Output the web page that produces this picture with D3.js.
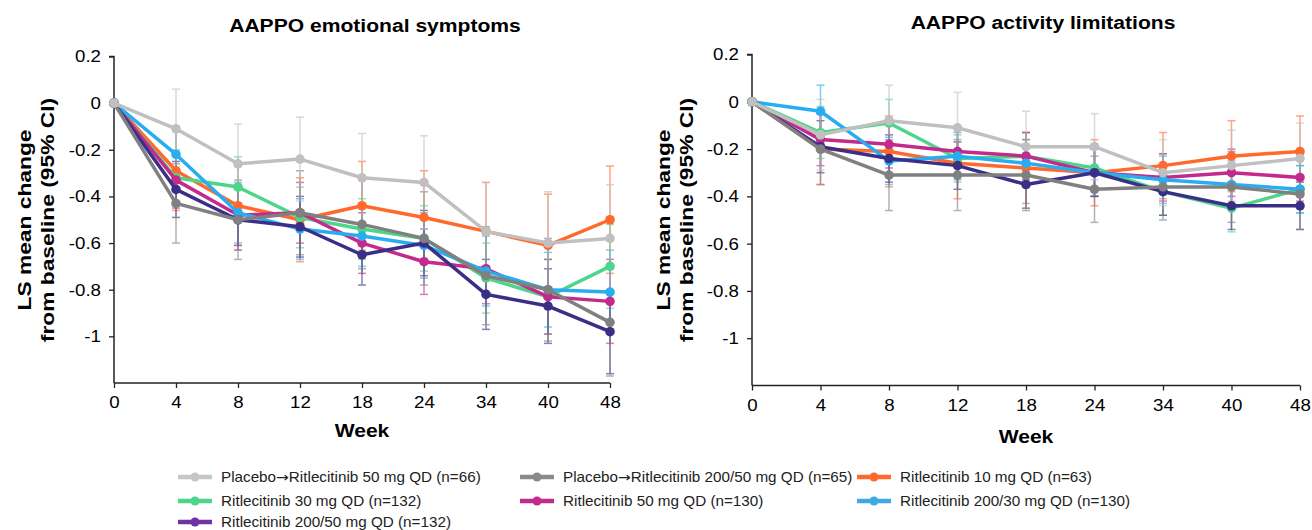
<!DOCTYPE html>
<html>
<head>
<meta charset="utf-8">
<script src="https://cdn.jsdelivr.net/npm/d3@7"></script>
<style>
  body { margin: 0; background: #fff; }
  svg { font-family: Arial, "Liberation Sans", sans-serif; }
</style>
</head>
<body>
<svg id="chart" width="1312" height="530"></svg>
<script>
// Categories and tick labels
const weeks = ["0", "4", "8", "12", "18", "24", "34", "40", "48"];
const yTicks = [0.2, 0, -0.2, -0.4, -0.6, -0.8, -1];

const seriesNames = [
  ["Placebo", "Ritlecitinib 50 mg QD (n=66)"],
  ["Placebo", "Ritlecitinib 200/50 mg QD (n=65)"],
  ["Ritlecitinib 10 mg QD (n=63)"],
  ["Ritlecitinib 30 mg QD (n=132)"],
  ["Ritlecitinib 50 mg QD (n=130)"],
  ["Ritlecitinib 200/30 mg QD (n=130)"],
  ["Ritlecitinib 200/50 mg QD (n=132)"]
];
const seriesColors = ["#c0c0c0", "#808080", "#ff6a2c", "#4dd58a", "#c42a8c", "#29adf0", "#3b2e87"];
const legendColors = ["#c6c6c6", "#8a8a8a", "#ff6a2c", "#4dd58a", "#c42a8c", "#3ea9e2", "#7133a4"];

// AAPPO emotional symptoms: LS mean change by week
const emoPlacebo50 = [0, -0.11, -0.26, -0.24, -0.32, -0.34, -0.55, -0.60, -0.58];
const emoPlacebo200 = [0, -0.43, -0.50, -0.47, -0.52, -0.58, -0.74, -0.80, -0.94];
const emo10 = [0, -0.29, -0.44, -0.50, -0.44, -0.49, -0.55, -0.61, -0.50];
const emo30 = [0, -0.32, -0.36, -0.49, -0.54, -0.58, -0.75, -0.83, -0.70];
const emo50 = [0, -0.33, -0.48, -0.47, -0.60, -0.68, -0.71, -0.83, -0.85];
const emo200_30 = [0, -0.22, -0.47, -0.54, -0.57, -0.61, -0.72, -0.80, -0.81];
const emo200_50 = [0, -0.37, -0.50, -0.53, -0.65, -0.60, -0.82, -0.87, -0.98];
// 95% CI half widths (n~65 groups and n~130 groups)
const emoCiWide = [0, 0.17, 0.17, 0.18, 0.19, 0.20, 0.21, 0.22, 0.23];
const emoCiNarrow = [0, 0.12, 0.13, 0.13, 0.13, 0.14, 0.15, 0.16, 0.18];

// AAPPO activity limitations: LS mean change by week
const actPlacebo50 = [0, -0.14, -0.08, -0.11, -0.19, -0.19, -0.30, -0.27, -0.24];
const actPlacebo200 = [0, -0.20, -0.31, -0.31, -0.31, -0.37, -0.36, -0.36, -0.39];
const act10 = [0, -0.20, -0.21, -0.26, -0.28, -0.30, -0.27, -0.23, -0.21];
const act30 = [0, -0.13, -0.09, -0.24, -0.23, -0.28, -0.38, -0.45, -0.37];
const act50 = [0, -0.16, -0.18, -0.21, -0.23, -0.30, -0.32, -0.30, -0.32];
const act200_30 = [0, -0.04, -0.25, -0.23, -0.26, -0.30, -0.33, -0.35, -0.37];
const act200_50 = [0, -0.19, -0.24, -0.27, -0.35, -0.30, -0.38, -0.44, -0.44];
const actCiWide = [0, 0.15, 0.15, 0.15, 0.15, 0.14, 0.14, 0.15, 0.15];
const actCiNarrow = [0, 0.11, 0.10, 0.10, 0.10, 0.10, 0.10, 0.10, 0.10];

// drawing order (light gray last so it sits on top)
const drawOrder = [2, 3, 4, 5, 6, 1, 0];

const svg = d3.select("#chart");

// text in the source is a bit wider than Arial, so stretch it a little
function wideText(parent, x, y, str, size, sx, rotate) {
  const rot = rotate ? ` rotate(${rotate})` : "";
  return parent.append("text")
    .attr("transform", `translate(${x},${y})${rot} scale(${sx},1)`)
    .attr("text-anchor", "middle")
    .attr("dy", "0.35em")
    .style("font-size", size + "px")
    .style("font-weight", "bold")
    .text(str);
}

function buildSeries(values, ciWide, ciNarrow) {
  return values.map((vals, i) => ({
    idx: i,
    color: seriesColors[i],
    points: vals.map((v, j) => ({
      week: weeks[j],
      value: v,
      ci: i < 3 ? ciWide[j] : ciNarrow[j]
    }))
  }));
}

function drawPanel(cfg) {
  const xScale = d3.scalePoint().domain(weeks).range([cfg.x0, cfg.x1]).padding(0);
  const yScale = d3.scaleLinear().domain([-1.2, 0.2]).range([cfg.yBottom, cfg.yTop]);
  const g = svg.append("g");

  // Title
  wideText(g, cfg.titleX, cfg.titleY, cfg.title, 18.5, 1.14);

  // Axes
  const sx = 1.1;
  const yAxis = d3.axisLeft(yScale)
    .tickValues(yTicks)
    .tickSize(5)
    .tickPadding(8)
    .tickFormat(d => (Math.abs(d) < 1e-9 ? "0" : String(+d.toFixed(1))));
  const yg = g.append("g")
    .attr("transform", `translate(${cfg.x0},0)`)
    .call(yAxis);
  yg.select(".domain").attr("d", `M-5,${yScale(0.2)}H0V${cfg.yBottom}`);
  yg.selectAll("text").attr("x", -13 / sx).attr("transform", `scale(${sx},1)`);

  const xAxis = d3.axisBottom(xScale).tickSize(5).tickPadding(8);
  const xg = g.append("g")
    .attr("transform", `translate(0,${cfg.yBottom})`)
    .call(xAxis);
  xg.select(".domain").attr("d", `M${cfg.x0},0H${cfg.x1}`);
  xg.selectAll("text").attr("transform", `scale(${sx},1)`);

  [yg, xg].forEach(a => {
    a.selectAll("text").style("font-size", "17px").attr("fill", "#000");
    a.selectAll("line").attr("stroke", "#222").attr("stroke-width", 1.3);
    a.select(".domain").attr("stroke", "#222").attr("stroke-width", 1.5);
  });

  // Axis titles
  ["LS mean change", "from baseline (95% CI)"].forEach((t, k) => {
    wideText(g, cfg.yLabelX + k * 23, cfg.yLabelMid, t, 19, 1.2, -90);
  });
  wideText(g, cfg.weekX, cfg.weekY, "Week", 18.5, 1.14);

  const series = buildSeries(cfg.values, cfg.ciWide, cfg.ciNarrow);
  const ordered = drawOrder.map(i => series[i]);

  // Error bars
  const eb = g.append("g").attr("class", "errorbars");
  ordered.forEach(s => {
    const pts = s.points.filter(p => p.ci > 0);
    const sg = eb.append("g")
      .attr("stroke", s.color)
      .attr("stroke-width", 1.5)
      .attr("opacity", 0.6);
    sg.selectAll("line.whisker").data(pts).enter().append("line")
      .attr("x1", d => xScale(d.week)).attr("x2", d => xScale(d.week))
      .attr("y1", d => yScale(d.value + d.ci)).attr("y2", d => yScale(d.value - d.ci));
    sg.selectAll("line.capTop").data(pts).enter().append("line")
      .attr("x1", d => xScale(d.week) - 4).attr("x2", d => xScale(d.week) + 4)
      .attr("y1", d => yScale(d.value + d.ci)).attr("y2", d => yScale(d.value + d.ci));
    sg.selectAll("line.capBot").data(pts).enter().append("line")
      .attr("x1", d => xScale(d.week) - 4).attr("x2", d => xScale(d.week) + 4)
      .attr("y1", d => yScale(d.value - d.ci)).attr("y2", d => yScale(d.value - d.ci));
  });

  // Lines and markers
  const line = d3.line()
    .x(d => xScale(d.week))
    .y(d => yScale(d.value));

  ordered.forEach(s => {
    g.append("path")
      .datum(s.points)
      .attr("fill", "none")
      .attr("stroke", s.color)
      .attr("stroke-width", 3.5)
      .attr("stroke-linejoin", "round")
      .attr("d", line);
    g.selectAll(null)
      .data(s.points)
      .enter()
      .append("circle")
      .attr("cx", d => xScale(d.week))
      .attr("cy", d => yScale(d.value))
      .attr("r", 4.8)
      .attr("fill", s.color);
  });
}

drawPanel({
  title: "AAPPO emotional symptoms",
  titleX: 375, titleY: 26,
  x0: 114, x1: 610, yTop: 56.5, yBottom: 383,
  yLabelX: 24, yLabelMid: 220,
  weekX: 362, weekY: 431,
  values: [emoPlacebo50, emoPlacebo200, emo10, emo30, emo50, emo200_30, emo200_50],
  ciWide: emoCiWide, ciNarrow: emoCiNarrow
});

drawPanel({
  title: "AAPPO activity limitations",
  titleX: 1043, titleY: 23,
  x0: 752, x1: 1300, yTop: 54.5, yBottom: 385.5,
  yLabelX: 663, yLabelMid: 220,
  weekX: 1026, weekY: 437,
  values: [actPlacebo50, actPlacebo200, act10, act30, act50, act200_30, act200_50],
  ciWide: actCiWide, ciNarrow: actCiNarrow
});

// Legend
const legendPos = [
  [178, 477], [520, 477], [857, 477],
  [178, 501], [520, 501], [857, 501],
  [178, 522]
];
const legend = svg.append("g").attr("class", "legend");
seriesNames.forEach((parts, i) => {
  const [lx, ly] = legendPos[i];
  const item = legend.append("g").attr("transform", `translate(${lx},${ly})`);
  item.append("line")
    .attr("x1", 0).attr("x2", 34)
    .attr("y1", 0).attr("y2", 0)
    .attr("stroke", legendColors[i])
    .attr("stroke-width", 4.5);
  item.append("circle")
    .attr("cx", 17).attr("cy", 0).attr("r", 4.5)
    .attr("fill", legendColors[i]);
  const txt = item.append("text")
    .attr("transform", "translate(43,0) scale(1.09,1)")
    .attr("dy", "0.35em")
    .style("font-size", "14px")
    .attr("fill", "#222");
  txt.append("tspan").text(parts[0]);
  if (parts.length > 1) {
    txt.append("tspan").style("font-family", "'DejaVu Sans'").text("\u2192");
    txt.append("tspan").text(parts[1]);
  }
});
</script>
</body>
</html>
